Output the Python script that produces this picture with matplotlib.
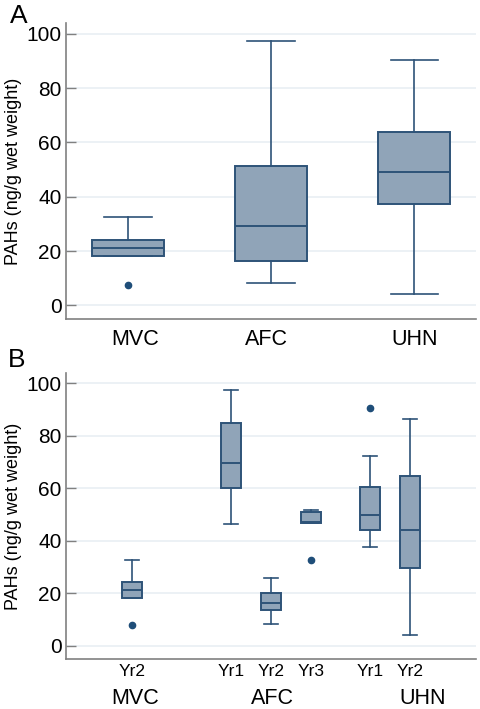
import numpy as np
import matplotlib
matplotlib.use("Agg")
import matplotlib.pyplot as plt

plt.rcParams["font.family"] = ["Liberation Sans", "DejaVu Sans"]

# --- Panel A: by site ---
sites = ["MVC", "AFC", "UHN"]
a_whislo = [18.2, 8.1, 4.2]
a_q1 = [18.2, 16.4, 37.4]
a_med = [21.0, 29.3, 49.3]
a_q3 = [24.1, 51.3, 63.9]
a_whishi = [32.4, 97.2, 90.2]
a_fliers = [[7.7], [], []]

# --- Panel B: by site and year ---
b_years = ["Yr2", "Yr1", "Yr2", "Yr3", "Yr1", "Yr2"]
b_whislo = [18.2, 46.4, 8.2, 46.7, 37.5, 4.2]
b_q1 = [18.2, 60.0, 13.6, 46.7, 44.2, 29.5]
b_med = [21.2, 69.7, 16.2, 47.2, 49.9, 44.0]
b_q3 = [24.2, 84.9, 20.3, 51.0, 60.6, 64.6]
b_whishi = [32.6, 97.4, 26.0, 51.9, 72.5, 86.6]
b_fliers = [[7.8], [], [], [32.9], [90.5], []]

FILL = "#90a4b8"
EDGE = "#2e5378"
DOT = "#1f4e79"
SPINE = "#808080"
GRID = "#e9eff3"


def stats(lo, q1, med, q3, hi, fl):
    return [dict(whislo=lo[i], q1=q1[i], med=med[i], q3=q3[i], whishi=hi[i], fliers=fl[i])
            for i in range(len(med))]


def draw(ax, st, pos, width, capw):
    ax.bxp(st, positions=pos, widths=width, patch_artist=True, capwidths=capw,
           boxprops=dict(facecolor=FILL, edgecolor=EDGE, linewidth=1.4),
           medianprops=dict(color=EDGE, linewidth=1.4),
           whiskerprops=dict(color=EDGE, linewidth=1.2),
           capprops=dict(color=EDGE, linewidth=1.2),
           flierprops=dict(marker="o", markerfacecolor=DOT, markeredgecolor=DOT, markersize=4.5),
           manage_ticks=False, zorder=3)
    ax.set_ylim(-5, 104)
    ax.set_yticks([0, 20, 40, 60, 80, 100])
    ax.tick_params(axis="y", labelsize=15, color=SPINE, direction="in", length=7, width=1, pad=3)
    ax.tick_params(axis="x", length=0)
    ax.set_xticks([])
    ax.grid(axis="y", color=GRID, linewidth=1.2, zorder=0)
    ax.set_axisbelow(True)
    for s in ["top", "right"]:
        ax.spines[s].set_visible(False)
    for s in ["left", "bottom"]:
        ax.spines[s].set_color(SPINE)
        ax.spines[s].set_linewidth(1.2)
    ax.set_ylabel("PAHs (ng/g wet weight)", fontsize=13, labelpad=3)


fig = plt.figure(figsize=(4.81, 7.09), dpi=100)

axA = fig.add_axes([0.137, 0.550, 0.853, 0.4176])
posA = [1, 2, 3]
draw(axA, stats(a_whislo, a_q1, a_med, a_q3, a_whishi, a_fliers), posA, 0.5, 0.33)
axA.set_xlim(0.567, 3.433)
for x, lab in zip([1.05, 1.97, 3.0], sites):
    axA.text(x, -0.07, lab, transform=axA.get_xaxis_transform(), ha="center", va="center", fontsize=15.5)
fig.text(0.04, 0.978, "A", fontsize=19, ha="center", va="center")

axB = fig.add_axes([0.137, 0.0705, 0.853, 0.4035])
posB = [1.65, 4.12, 5.12, 6.12, 7.6, 8.6]
draw(axB, stats(b_whislo, b_q1, b_med, b_q3, b_whishi, b_fliers), posB, 0.5, 0.34)
axB.set_xlim(0, 10.25)
for x, lab in zip(posB, b_years):
    axB.text(x, -0.045, lab, transform=axB.get_xaxis_transform(), ha="center", va="center", fontsize=12.5)
for x, lab in zip([1.72, 5.17, 8.9], sites):
    axB.text(x, -0.137, lab, transform=axB.get_xaxis_transform(), ha="center", va="center", fontsize=15.5)
fig.text(0.035, 0.492, "B", fontsize=19, ha="center", va="center")

fig.savefig("out.png", dpi=100)
